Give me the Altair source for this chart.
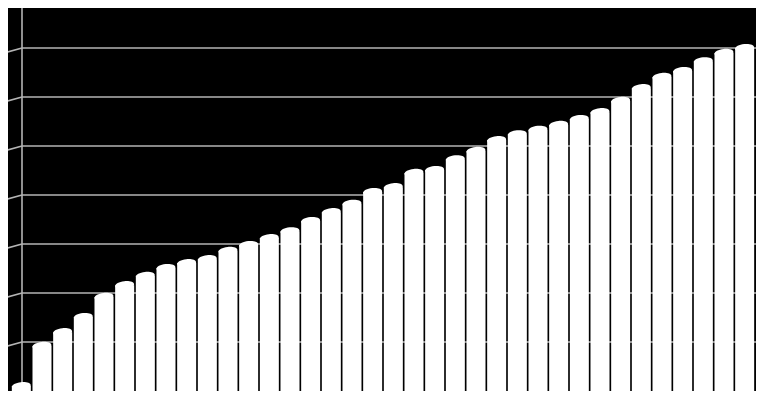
import altair as alt
import pandas as pd

# ---- data (in gridline units, 0..8) ----
categories = [str(i) for i in range(1, 37)]
values = [0.10, 0.92, 1.20, 1.51, 1.92, 2.16, 2.35, 2.51, 2.61, 2.69,
          2.86, 2.98, 3.12, 3.26, 3.47, 3.65, 3.82, 4.06, 4.16, 4.45,
          4.51, 4.73, 4.90, 5.12, 5.24, 5.33, 5.43, 5.55, 5.69, 5.92,
          6.18, 6.41, 6.53, 6.73, 6.90, 7.00]
grid_levels = [1, 2, 3, 4, 5, 6, 7, 8]
axis_range = [0, 8]

bars_df = pd.DataFrame({"cat": categories, "value": values})
grid_df = pd.DataFrame({"level": grid_levels})
wall_df = pd.DataFrame({"lo": [axis_range[0]], "hi": [axis_range[1]]})

GRID = "#b4b4b4"
ELLIPSE = ("M -1 0 C -1 -0.232 -0.552 -0.42 0 -0.42 C 0.552 -0.42 1 -0.232 1 0 "
           "C 1 0.232 0.552 0.42 0 0.42 C -0.552 0.42 -1 0.232 -1 0 Z")

# 49 px per gridline step; level 8 sits just above the visible canvas
yscale = alt.Scale(domain=axis_range, range=[383, -9], nice=False, zero=True)
xscale = alt.Scale(paddingInner=0.08, paddingOuter=0.04)
Y = lambda f: alt.Y(f, type="quantitative", scale=yscale, axis=None)

grid = alt.Chart(grid_df).mark_rule(color=GRID, strokeWidth=1.6).encode(
    y=Y("level"), x=alt.value(11), x2=alt.value(760),
)
slant = alt.Chart(grid_df).mark_rule(color=GRID, strokeWidth=1.6, y2Offset=6).encode(
    y=Y("level"), y2=alt.Y2("level"), x=alt.value(11), x2=alt.value(-11),
)
left_wall = alt.Chart(wall_df).mark_rule(color=GRID, strokeWidth=1.6).encode(
    x=alt.value(11), y=Y("lo"), y2=alt.Y2("hi"),
)
floor = alt.Chart(wall_df).mark_rect(color="white", y2Offset=11).encode(
    x=alt.value(-3), x2=alt.value(760), y=Y("lo"), y2=alt.Y2("lo"),
)
bars = alt.Chart(bars_df).mark_bar(color="white").encode(
    x=alt.X("cat:O", sort=None, axis=None, scale=xscale), y=Y("value"),
)
tops = alt.Chart(bars_df).mark_point(
    shape=ELLIPSE, filled=True, size=361, color="white", opacity=1, strokeWidth=0,
    angle=354,
).encode(
    x=alt.X("cat:O", sort=None, axis=None, scale=xscale), y=Y("value"),
)

chart = alt.layer(
    grid, slant, left_wall, floor, bars, tops
).properties(
    width=744, height=383,
    autosize=alt.AutoSizeParams(type="none"),
    padding={"left": 3, "top": 0, "right": 1, "bottom": 1},
    background="black",
).configure_view(stroke=None)

chart.save("out.html", embed_options={"renderer": "svg", "actions": False})
